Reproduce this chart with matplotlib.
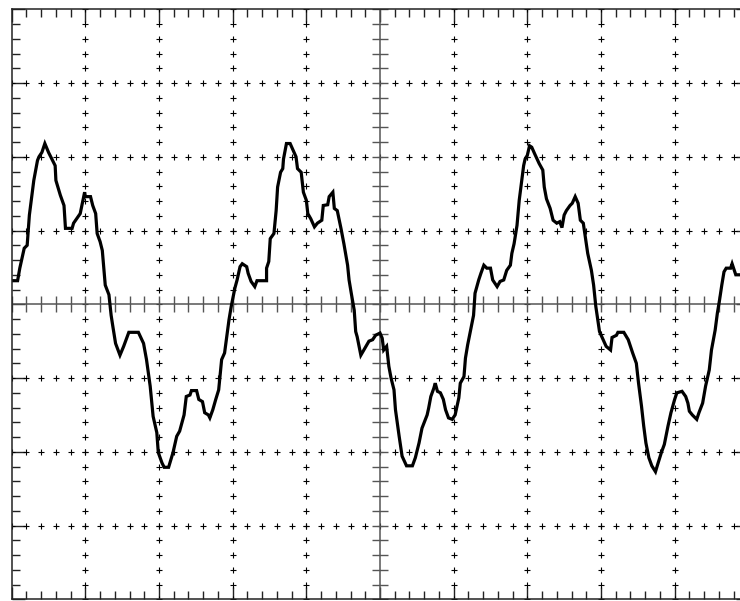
import numpy as np
from matplotlib import pyplot as plt

time_div = [0.00, 0.08, 0.11, 0.17, 0.21, 0.24, 0.30, 0.35, 0.37, 0.41,
            0.45, 0.50, 0.59, 0.60, 0.66, 0.71, 0.73, 0.82, 0.84, 0.93,
            0.99, 1.00, 1.07, 1.10, 1.14, 1.16, 1.20, 1.23, 1.27, 1.32,
            1.35, 1.37, 1.41, 1.47, 1.52, 1.59,
            1.72, 1.79, 1.83, 1.88, 1.92, 1.97, 1.99, 2.04, 2.07, 2.13,
            2.19, 2.24, 2.28, 2.34, 2.37, 2.42, 2.44, 2.51, 2.54, 2.59,
            2.62, 2.67, 2.69, 2.73, 2.77, 2.81, 2.85, 2.89, 2.92, 2.95,
            2.98, 3.03, 3.06, 3.10, 3.13, 3.19,
            3.21, 3.25, 3.30, 3.33, 3.46, 3.46, 3.49, 3.51, 3.56, 3.59,
            3.61, 3.65, 3.68, 3.69, 3.73, 3.78, 3.82, 3.86, 3.88, 3.93,
            3.96, 4.00, 4.02, 4.06, 4.11, 4.15, 4.21, 4.23, 4.29, 4.31,
            4.36, 4.38, 4.42, 4.47, 4.51, 4.56, 4.58, 4.61, 4.65, 4.67,
            4.69, 4.74, 4.78,
            4.85, 4.90, 4.94, 5.00, 5.03, 5.05, 5.09, 5.12, 5.15, 5.19,
            5.21, 5.26, 5.30, 5.36, 5.44, 5.48, 5.53, 5.57, 5.64, 5.66,
            5.69, 5.73, 5.75, 5.78, 5.82, 5.86, 5.89, 5.93, 5.98, 6.02,
            6.07, 6.09, 6.14, 6.16, 6.19, 6.23, 6.27, 6.29, 6.34, 6.37,
            6.41,
            6.45, 6.50, 6.53, 6.59, 6.63, 6.68, 6.72, 6.77, 6.79, 6.82,
            6.86, 6.89, 6.92, 6.95, 6.97, 7.00, 7.03, 7.06, 7.10, 7.16,
            7.21, 7.23, 7.26, 7.31, 7.35, 7.40, 7.44, 7.47, 7.50, 7.53,
            7.58, 7.61, 7.65, 7.69, 7.72, 7.76, 7.78, 7.82, 7.87, 7.90,
            7.93, 7.96, 7.98, 8.03, 8.07,
            8.13, 8.15, 8.21, 8.23, 8.31, 8.37, 8.43, 8.48, 8.51, 8.55,
            8.58, 8.61, 8.65, 8.69, 8.74, 8.77, 8.82, 8.86, 8.91, 8.95,
            9.00, 9.03, 9.10, 9.15, 9.18, 9.20, 9.24, 9.30, 9.33, 9.38,
            9.42, 9.47, 9.50, 9.55, 9.58, 9.61, 9.64, 9.67, 9.70, 9.76,
            9.78, 9.83, 9.90]

volt_div = [0.32, 0.32, 0.49, 0.76, 0.80, 1.21, 1.68, 1.95, 2.00, 2.06,
            2.18, 2.06, 1.88, 1.68, 1.48, 1.34, 1.03, 1.03, 1.10, 1.23,
            1.52, 1.46, 1.46, 1.34, 1.23, 0.96, 0.85, 0.73, 0.26, 0.13,
            -0.15, -0.28, -0.53, -0.69, -0.57, -0.38,
            -0.38, -0.53, -0.75, -1.11, -1.52, -1.74, -2.01, -2.15, -2.21, -2.21,
            -2.01, -1.79, -1.72, -1.50, -1.25, -1.23, -1.17, -1.17, -1.29, -1.32,
            -1.47, -1.50, -1.54, -1.43, -1.29, -1.16, -0.75, -0.66, -0.44, -0.21,
            -0.03, 0.22, 0.33, 0.51, 0.55, 0.51,
            0.42, 0.31, 0.24, 0.32, 0.32, 0.49, 0.58, 0.89, 0.96, 1.27,
            1.59, 1.79, 1.84, 1.97, 2.18, 2.18, 2.09, 2.00, 1.84, 1.79,
            1.52, 1.41, 1.23, 1.16, 1.05, 1.10, 1.14, 1.34, 1.35, 1.46,
            1.52, 1.30, 1.27, 1.03, 0.82, 0.53, 0.33, 0.15, -0.08, -0.37,
            -0.44, -0.69, -0.62,
            -0.50, -0.48, -0.42, -0.39, -0.46, -0.62, -0.57, -0.84, -1.00, -1.16,
            -1.43, -1.79, -2.06, -2.19, -2.19, -2.08, -1.88, -1.68, -1.50, -1.41,
            -1.25, -1.14, -1.07, -1.18, -1.20, -1.29, -1.43, -1.54, -1.56, -1.50,
            -1.27, -1.07, -0.98, -0.73, -0.55, -0.35, -0.15, 0.15, 0.33, 0.42,
            0.53,
            0.49, 0.49, 0.33, 0.24, 0.31, 0.33, 0.46, 0.53, 0.69, 0.82,
            1.07, 1.41, 1.64, 1.88, 1.97, 2.02, 2.15, 2.13, 2.04, 1.91,
            1.82, 1.59, 1.43, 1.30, 1.14, 1.10, 1.12, 1.04, 1.21, 1.27,
            1.34, 1.37, 1.46, 1.37, 1.14, 1.10, 0.96, 0.69, 0.46, 0.26,
            -0.03, -0.23, -0.37, -0.48, -0.57,
            -0.62, -0.45, -0.42, -0.38, -0.38, -0.48, -0.66, -0.80, -1.07, -1.38,
            -1.65, -1.88, -2.08, -2.19, -2.27, -2.17, -2.01, -1.90, -1.65, -1.47,
            -1.29, -1.20, -1.18, -1.25, -1.34, -1.45, -1.50, -1.56, -1.47, -1.34,
            -1.11, -0.89, -0.62, -0.35, -0.12, 0.06, 0.26, 0.44, 0.49, 0.49,
            0.55, 0.40, 0.40]

n_xdiv = 10
n_ydiv = 8
sub = 5   # minor marks per division

frame_col = '#222222'

fig = plt.figure(figsize=(7.40, 6.01), dpi=100)
# screen runs a little past the right edge of the picture
ax = fig.add_axes([11.7 / 740, 1.7 / 601, 736.6 / 740, 590 / 601])
ax.set_xlim(0, n_xdiv)
ax.set_ylim(-n_ydiv / 2, n_ydiv / 2)

for s in ax.spines.values():
    s.set_color(frame_col)
    s.set_linewidth(1.1)

ax.set_xticks(np.arange(0, n_xdiv + 1, 1))
ax.set_xticks(np.arange(0, n_xdiv + 0.01, 1 / sub), minor=True)
ax.set_yticks(np.arange(-4, 5, 1))
ax.set_yticks(np.arange(-4, 4.01, 1 / sub), minor=True)
ax.tick_params(which='both', direction='in', top=True, right=True,
               labelbottom=False, labelleft=False, color=frame_col, width=1.0)
ax.tick_params(which='major', length=9)
ax.tick_params(which='minor', length=6)

# dotted graticule: small crosses along every major line
xs_minor = np.arange(0, n_xdiv + 0.01, 1 / sub)
ys_minor = np.arange(-4, 4.01, 1 / sub)
for gx in range(1, n_xdiv):
    if gx == 5:
        continue
    ax.plot(np.full_like(ys_minor, gx), ys_minor, ls='none', marker='+',
            ms=4.5, mew=0.8, color='black')
for gy in [-3, -2, -1, 1, 2, 3]:
    ax.plot(xs_minor, np.full_like(xs_minor, gy), ls='none', marker='+',
            ms=4.5, mew=0.8, color='black')

# centre axes with their own ticks
ax.axhline(0, color='#555555', lw=1.1)
ax.axvline(5, color='#555555', lw=1.1)
ax.plot(xs_minor, np.zeros_like(xs_minor), ls='none', marker='|',
        ms=11, mew=1.0, color='#555555')
ax.plot(np.full_like(ys_minor, 5), ys_minor, ls='none', marker='_',
        ms=11, mew=1.0, color='#555555')

# trace
ax.plot(time_div, volt_div, color='black', lw=2.3, solid_joinstyle='miter')

fig.savefig('out.png', dpi=100)
